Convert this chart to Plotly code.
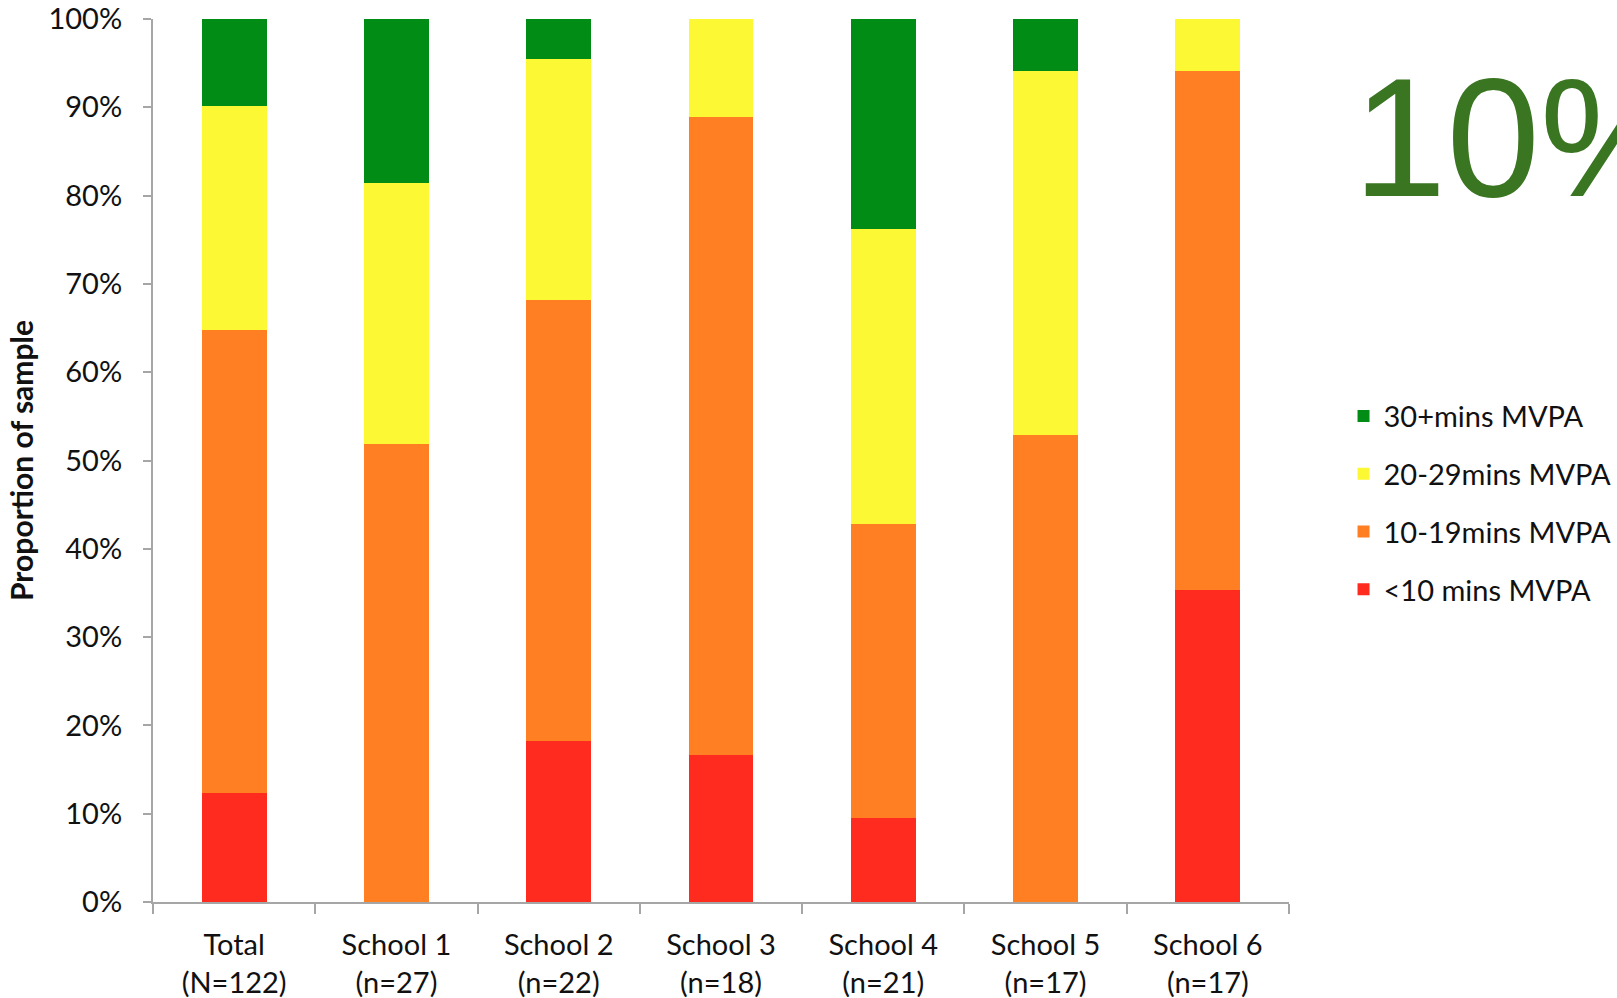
import plotly.graph_objects as go

# Sample groups and their sizes
groups = ["Total", "School 1", "School 2", "School 3", "School 4", "School 5", "School 6"]
sizes = [122, 27, 22, 18, 21, 17, 17]
group_labels = ["Total<br>(N=122)", "School 1<br>(n=27)", "School 2<br>(n=22)",
                "School 3<br>(n=18)", "School 4<br>(n=21)", "School 5<br>(n=17)",
                "School 6<br>(n=17)"]

# Number of children in each MVPA band per group
under_10 = [15, 0, 4, 3, 2, 0, 6]
mins_10_19 = [64, 14, 11, 13, 7, 9, 10]
mins_20_29 = [31, 8, 6, 2, 7, 7, 1]
mins_30_plus = [12, 5, 1, 0, 5, 1, 0]

bands = [
    ("<10 mins MVPA", under_10, "#FF2B1E"),
    ("10-19mins MVPA", mins_10_19, "#FF7F22"),
    ("20-29mins MVPA", mins_20_29, "#FDF834"),
    ("30+mins MVPA", mins_30_plus, "#008C15"),
]

ytick_vals = [0, 0.1, 0.2, 0.3, 0.4, 0.5, 0.6, 0.7, 0.8, 0.9, 1.0]
ytick_text = ["0%", "10%", "20%", "30%", "40%", "50%", "60%", "70%", "80%", "90%", "100%"]

FONT = "Lato"
TEXT = "#111111"
AXIS_GREY = "#A6A6A6"

fig = go.Figure()
for i, (name, counts, colour) in enumerate(bands):
    share = [c / n for c, n in zip(counts, sizes)]
    fig.add_trace(go.Bar(
        x=group_labels, y=share, name=name,
        marker=dict(color=colour, line=dict(width=0)),
        legendgroup=f"g{i}",
        legendrank=1000 - i,  # highest band listed first
        hovertemplate="%{x}<br>" + name + ": %{y:.1%}<extra></extra>",
    ))

fig.update_layout(
    width=1617, height=998,
    barmode="stack", bargap=0.6,
    plot_bgcolor="white", paper_bgcolor="white",
    margin=dict(l=153, r=328, t=19, b=96, autoexpand=False),
    font=dict(family=FONT, color=TEXT, size=29),
    showlegend=True,
    legend=dict(
        traceorder="grouped", tracegroupgap=17,
        x=1.048, xanchor="left", y=0.579, yanchor="top",
        font=dict(family=FONT, size=29, color=TEXT),
        bgcolor="rgba(0,0,0,0)",
    ),
    xaxis=dict(
        range=[-0.5, 6.5], showline=True, linecolor=AXIS_GREY, linewidth=2,
        ticks="outside", tickson="boundaries", ticklen=10, tickcolor=AXIS_GREY,
        tickwidth=2, showgrid=False, zeroline=False, ticklabelstandoff=16,
        tickfont=dict(family=FONT, size=29, color=TEXT),
    ),
    yaxis=dict(
        range=[0, 1], showline=True, linecolor=AXIS_GREY, linewidth=2,
        ticks="outside", ticklen=8, tickcolor=AXIS_GREY, tickwidth=2,
        tickvals=ytick_vals, ticktext=ytick_text, ticklabelstandoff=15,
        showgrid=False, zeroline=False,
        tickfont=dict(family=FONT, size=29, color=TEXT),
        title=dict(text="<b>Proportion of sample</b>", standoff=6,
                   font=dict(family=FONT, size=30, color=TEXT)),
    ),
)

fig.add_annotation(
    text="10%", xref="paper", yref="paper", x=1.0545, y=0.8654,
    xanchor="left", yanchor="middle", showarrow=False,
    font=dict(family="Liberation Sans", size=168, color="#3A7521"),
)

fig.write_html("out.html")
